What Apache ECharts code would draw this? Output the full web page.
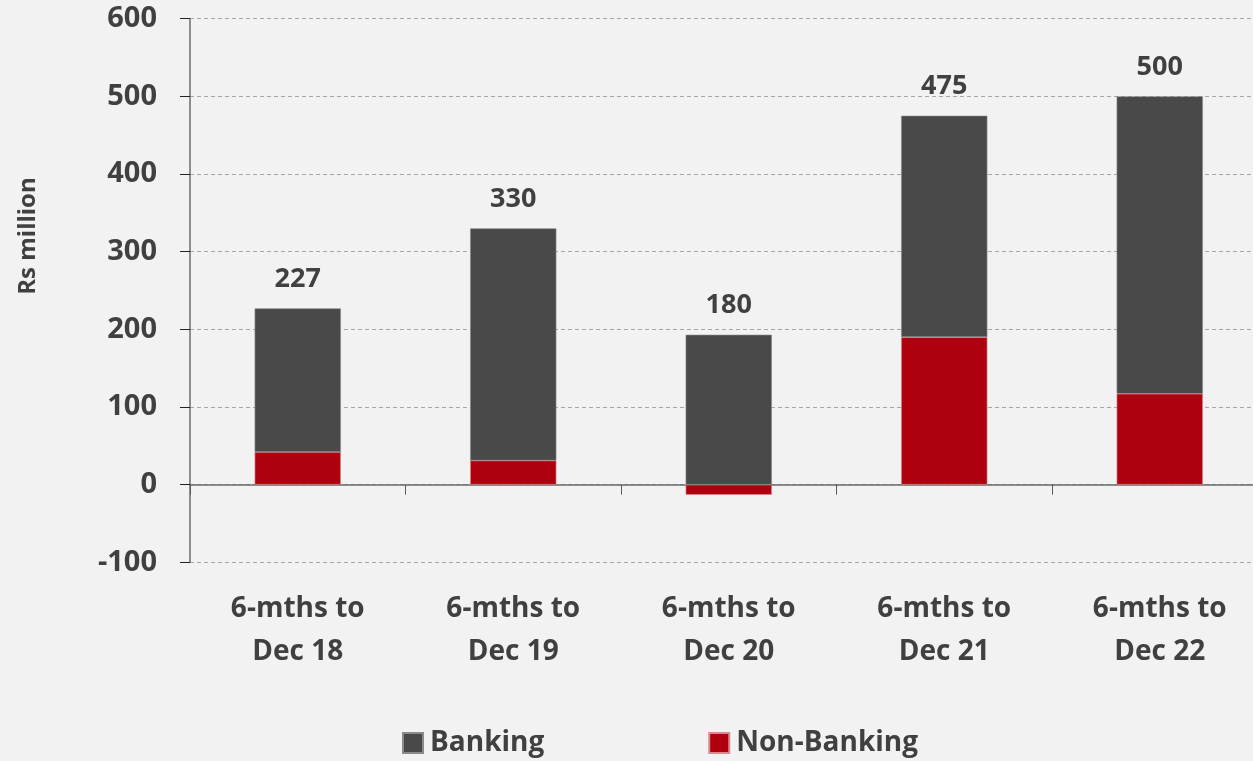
<!DOCTYPE html>
<html>
<head>
<meta charset="utf-8">
<script src="https://cdn.jsdelivr.net/npm/echarts@6/dist/echarts.min.js"></script>
<style>
html,body{margin:0;padding:0;background:#f2f2f2;}
#chart{width:1253px;height:761px;}
</style>
</head>
<body>
<div id="chart"></div>
<script>
var categories = ['6-mths to\nDec 18', '6-mths to\nDec 19', '6-mths to\nDec 20', '6-mths to\nDec 21', '6-mths to\nDec 22'];
var banking = [185, 299, 193, 285, 383];
var nonBanking = [42, 31, -13, 190, 117];
var totals = [227, 330, 180, 475, 500];
var yTicks = [-100, 0, 100, 200, 300, 400, 500, 600];

var FONT = '"Open Sans", "Liberation Sans", sans-serif';
var TXT = '#404040';

var chart = echarts.init(document.getElementById('chart'));
chart.setOption({
  backgroundColor: '#f2f2f2',
  animation: false,
  textStyle: { fontFamily: FONT },
  grid: { left: 190, top: 18.7, height: 543.6, width: 1077.5, containLabel: false, outerBoundsMode: 'none' },
  legend: {
    left: 397, top: 724,
    itemWidth: 20, itemHeight: 20, itemGap: 164,
    icon: 'rect',
    textStyle: { fontFamily: FONT, fontSize: 28, fontWeight: 'bold', color: TXT, padding: [0, 0, 0, 2] },
    data: ['Banking', 'Non-Banking']
  },
  graphic: [{
    type: 'text', x: 28, y: 236, rotation: Math.PI / 2,
    style: { text: 'Rs million', fontFamily: FONT, fontSize: 24, fontWeight: 'bold', fill: TXT, align: 'center', verticalAlign: 'middle' }
  }],
  xAxis: {
    type: 'category',
    data: categories,
    axisLine: { onZero: true, lineStyle: { color: '#6b6b6b', width: 1.5 } },
    axisTick: { show: true, length: 10, lineStyle: { color: '#595959' } },
    axisLabel: { margin: 25, fontFamily: FONT, fontSize: 28, fontWeight: 'bold', color: TXT, lineHeight: 43 }
  },
  yAxis: {
    type: 'value', min: -100, max: 600, interval: 100,
    axisLine: { show: true, lineStyle: { color: '#6b6b6b', width: 1.5 } },
    axisTick: { show: true, length: 10, lineStyle: { color: '#222' } },
    splitLine: { show: true, lineStyle: { color: '#a6a6a6', type: [4, 3], width: 1 } },
    axisLabel: {
      margin: 33, fontFamily: FONT, fontSize: 29, fontWeight: 'bold', color: TXT,
      formatter: function (v) { return yTicks.indexOf(v) >= 0 ? String(v) : ''; }
    }
  },
  series: [
    {
      name: 'Non-Banking', type: 'bar', stack: 'total', data: nonBanking, barWidth: '40%',
      itemStyle: { color: '#ae000f', borderColor: '#d98a90', borderWidth: 0.6 }
    },
    {
      name: 'Banking', type: 'bar', stack: 'total', data: banking, barWidth: '40%',
      itemStyle: { color: '#494949', borderColor: '#8a8a8a', borderWidth: 0.6 },
      label: {
        show: true, position: 'top', distance: 16,
        fontFamily: FONT, fontSize: 27, fontWeight: 'bold', color: TXT,
        formatter: function (p) { return String(totals[p.dataIndex]); }
      }
    }
  ]
});
</script>
</body>
</html>
